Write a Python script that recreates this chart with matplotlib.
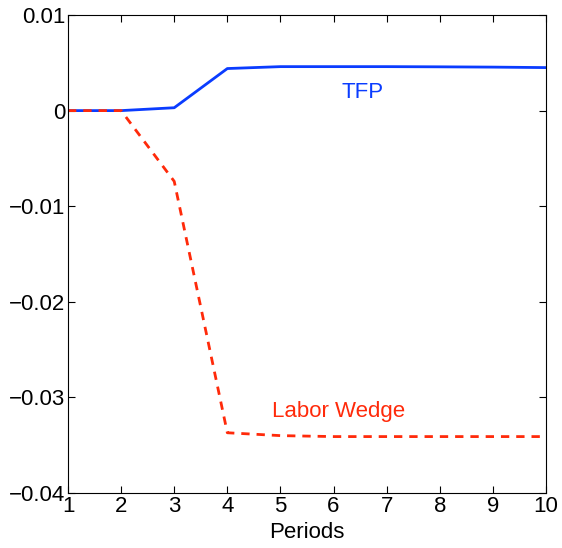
import matplotlib.pyplot as plt

periods = [1, 2, 3, 4, 5, 6, 7, 8, 9, 10]
tfp = [0.0, 0.0, 0.0003, 0.0044, 0.0046, 0.0046, 0.0046, 0.00458, 0.00455, 0.0045]
labor_wedge = [0.0, 0.0, -0.0074, -0.0337, -0.0340, -0.0341, -0.0341, -0.0341, -0.0341, -0.0341]

plt.rcParams['font.family'] = ['Liberation Sans', 'DejaVu Sans']

fig = plt.figure(figsize=(5.62, 5.48), dpi=100)
ax = fig.add_axes([0.121, 0.1004, 0.8505, 0.8722])

# TFP response (solid) and labor wedge (dashed)
ax.plot(periods, tfp, color='#0a3cff', linewidth=2)
ax.plot(periods, labor_wedge, color='#ff2a0a', linewidth=2, linestyle=(0, (3, 2.5)))

ax.text(6.55, 0.0019, 'TFP', color='#0a3cff', fontsize=16, ha='center', va='center')
ax.text(6.1, -0.0315, 'Labor Wedge', color='#ff2a0a', fontsize=16, ha='center', va='center')

ax.set_xlim(1, 10)
ax.set_ylim(-0.04, 0.01)
ax.set_xticks(periods)
ax.set_yticks([-0.04, -0.03, -0.02, -0.01, 0, 0.01])
ax.set_yticklabels(['\u22120.04', '\u22120.03', '\u22120.02', '\u22120.01', '0', '0.01'])
ax.tick_params(direction='in', top=True, right=True, labelsize=16, length=5, pad=2)
ax.set_xlabel('Periods', fontsize=16, labelpad=4)

plt.savefig('out.png')
